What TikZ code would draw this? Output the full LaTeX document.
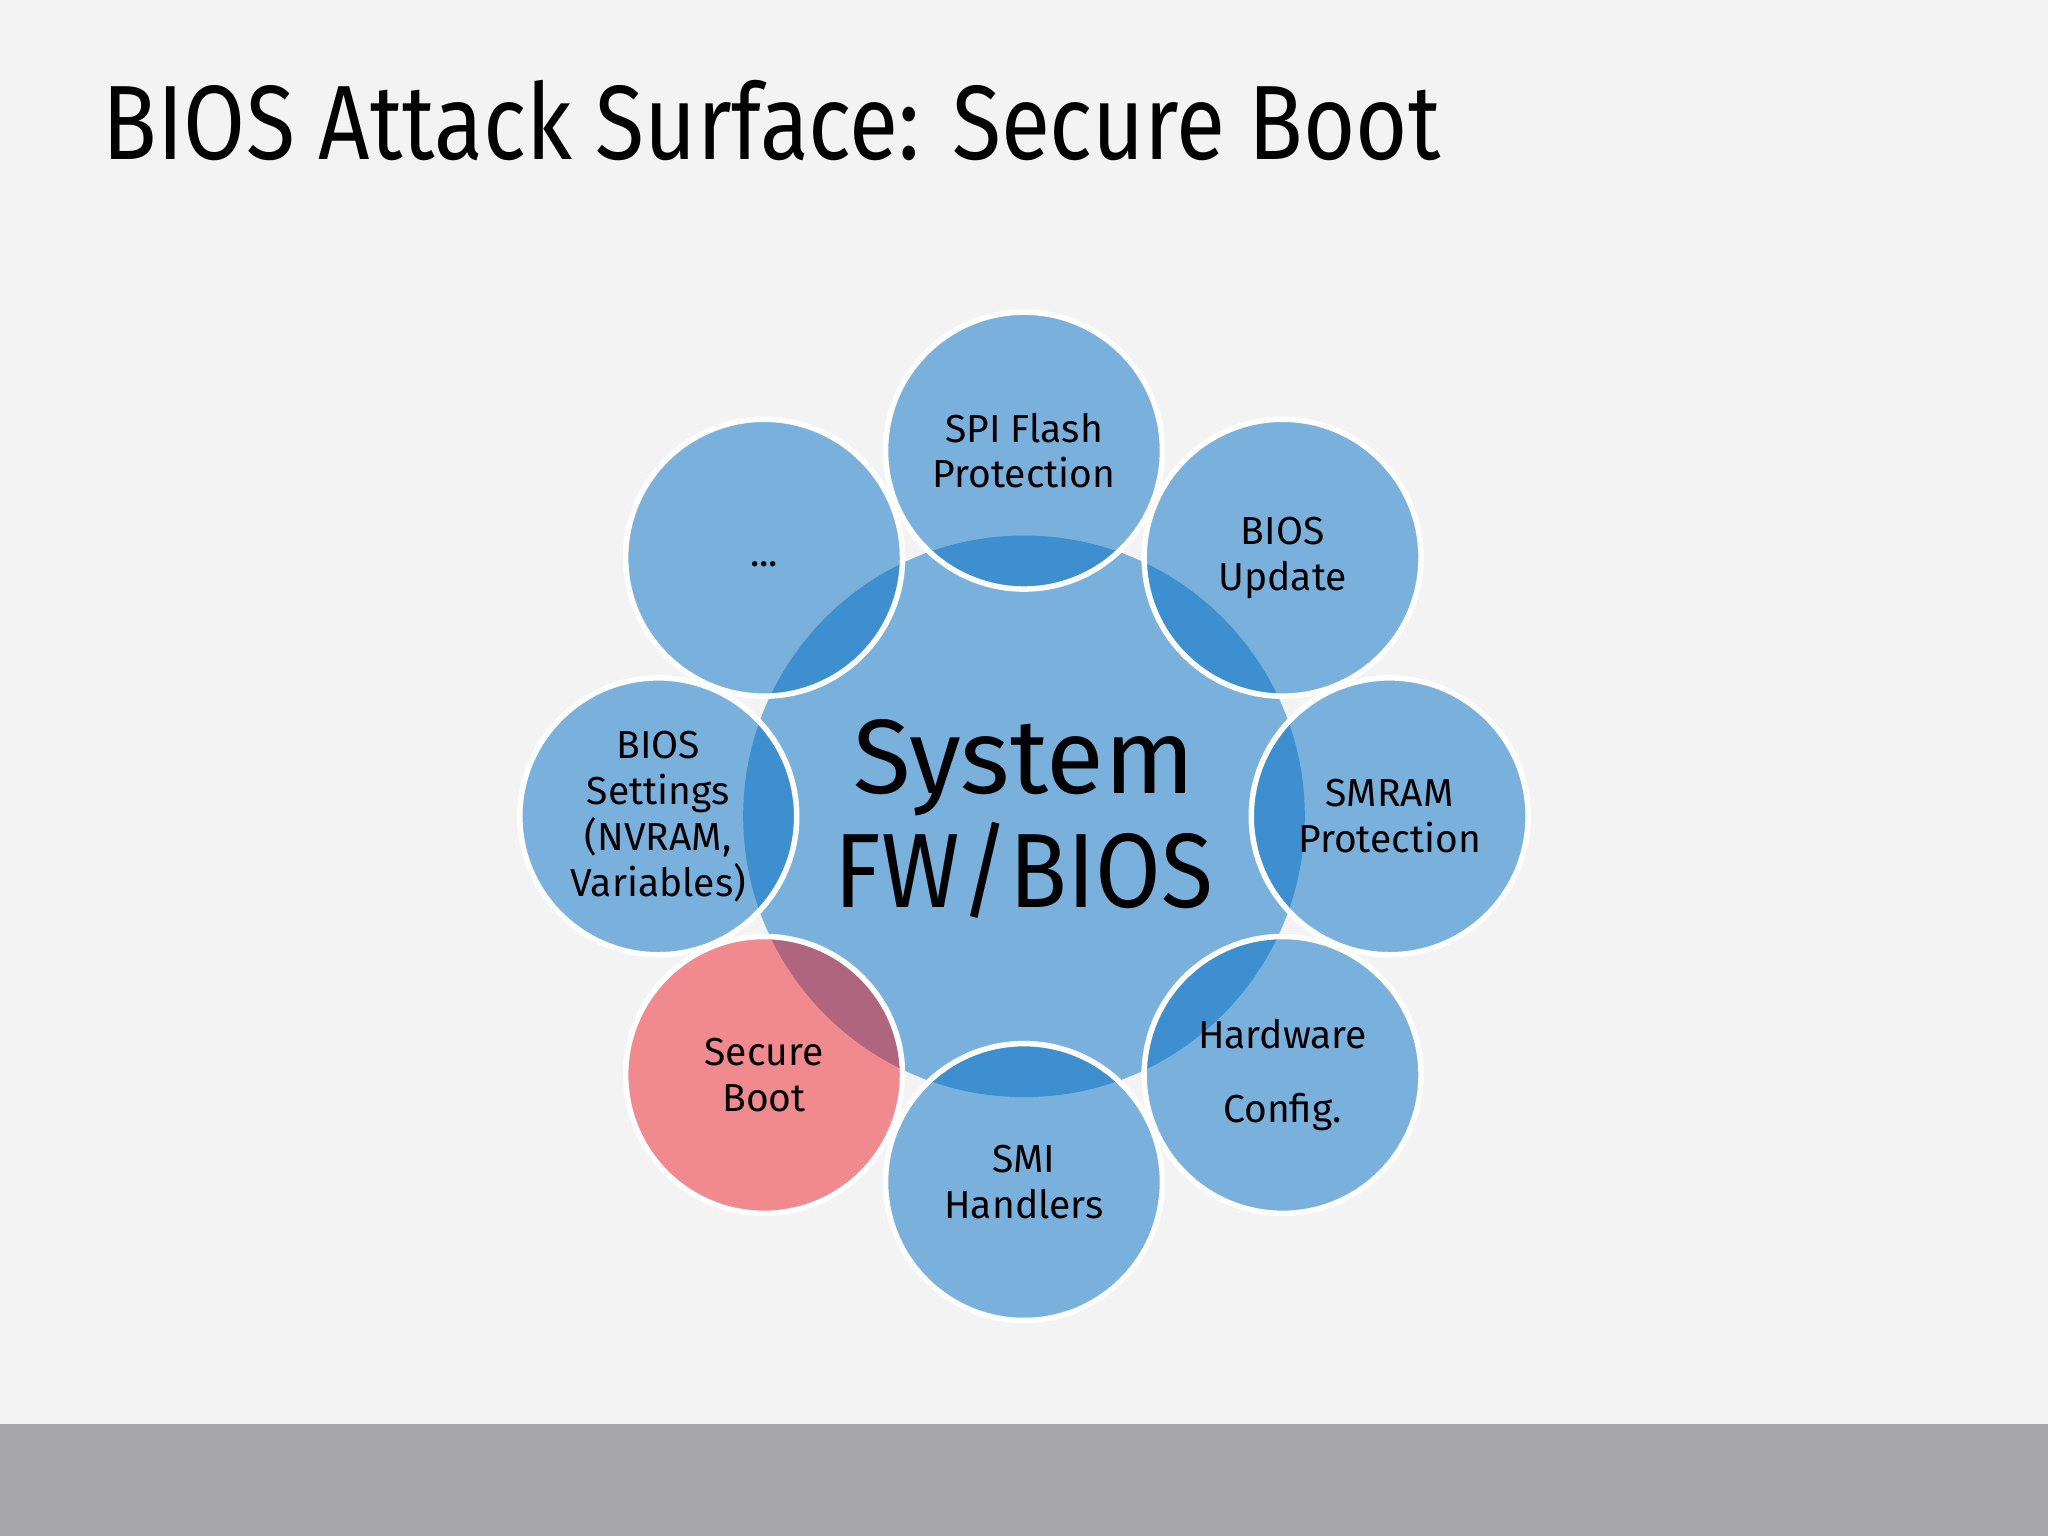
\documentclass[tikz,border=0pt]{standalone}
\usepackage{fontspec}
\usepackage{graphicx}
\setmainfont{Fira Sans}
\definecolor{bg}{HTML}{F3F3F3}
\definecolor{bar}{HTML}{A7A6A8}
\definecolor{lb}{HTML}{7AB1DC}
\definecolor{db}{HTML}{3D8FCF}
\definecolor{pk}{HTML}{F08A8F}
\definecolor{pu}{HTML}{B0657E}
\begin{document}
\begin{tikzpicture}[x=0.01cm,y=-0.01cm,
  sat/.style={font=\fontsize{8.5}{10}\selectfont, align=center, text=black}]
\fill[bg] (0,0) rectangle (1568,1176);
\fill[bar] (0,1090) rectangle (1568,1176);
\node[anchor=west,inner sep=0pt,font=\fontsize{23}{26}\selectfont] (title) at (78,92) {\scalebox{0.85}[1]{BIOS Attack Surface: Secure Boot}};
\coordinate (C) at (784,625);
\fill[lb] (C) circle (215);
\foreach \n/\x/\y/\c/\o in {a/784/345/lb/db, b/982/427/lb/db, c/1064/625/lb/db, d/982/823/lb/db, e/784/905/lb/db, g/504/625/lb/db, h/585/427/lb/db, f/585/823/pk/pu}{
  \fill[\c] (\x,\y) circle (106);
  \begin{scope}
    \clip (C) circle (215);
    \fill[\o] (\x,\y) circle (106);
  \end{scope}
  \draw[white,line width=1.2pt] (\x,\y) circle (106);
}
\node[font=\fontsize{23}{25}\selectfont,align=center] (sys) at (784,627) {System\\\scalebox{0.9}[1]{FW/BIOS}};
\node[sat] (n1) at (784,345) {SPI Flash\\Protection};
\node[sat] (n2) at (982,427) {BIOS\\Update};
\node[sat] (n3) at (1064,625) {SMRAM\\Protection};
\node[sat,align=center] (n4) at (982,823) {Hardware\\[6pt]Config.};
\node[sat] (n5) at (784,905) {SMI\\Handlers};
\node[sat] (n6) at (585,823) {Secure\\Boot};
\node[sat] (n7) at (504,625) {BIOS\\Settings\\(NVRAM,\\Variables)};
\node[sat] (n8) at (585,432) {...};
\end{tikzpicture}
\end{document}
